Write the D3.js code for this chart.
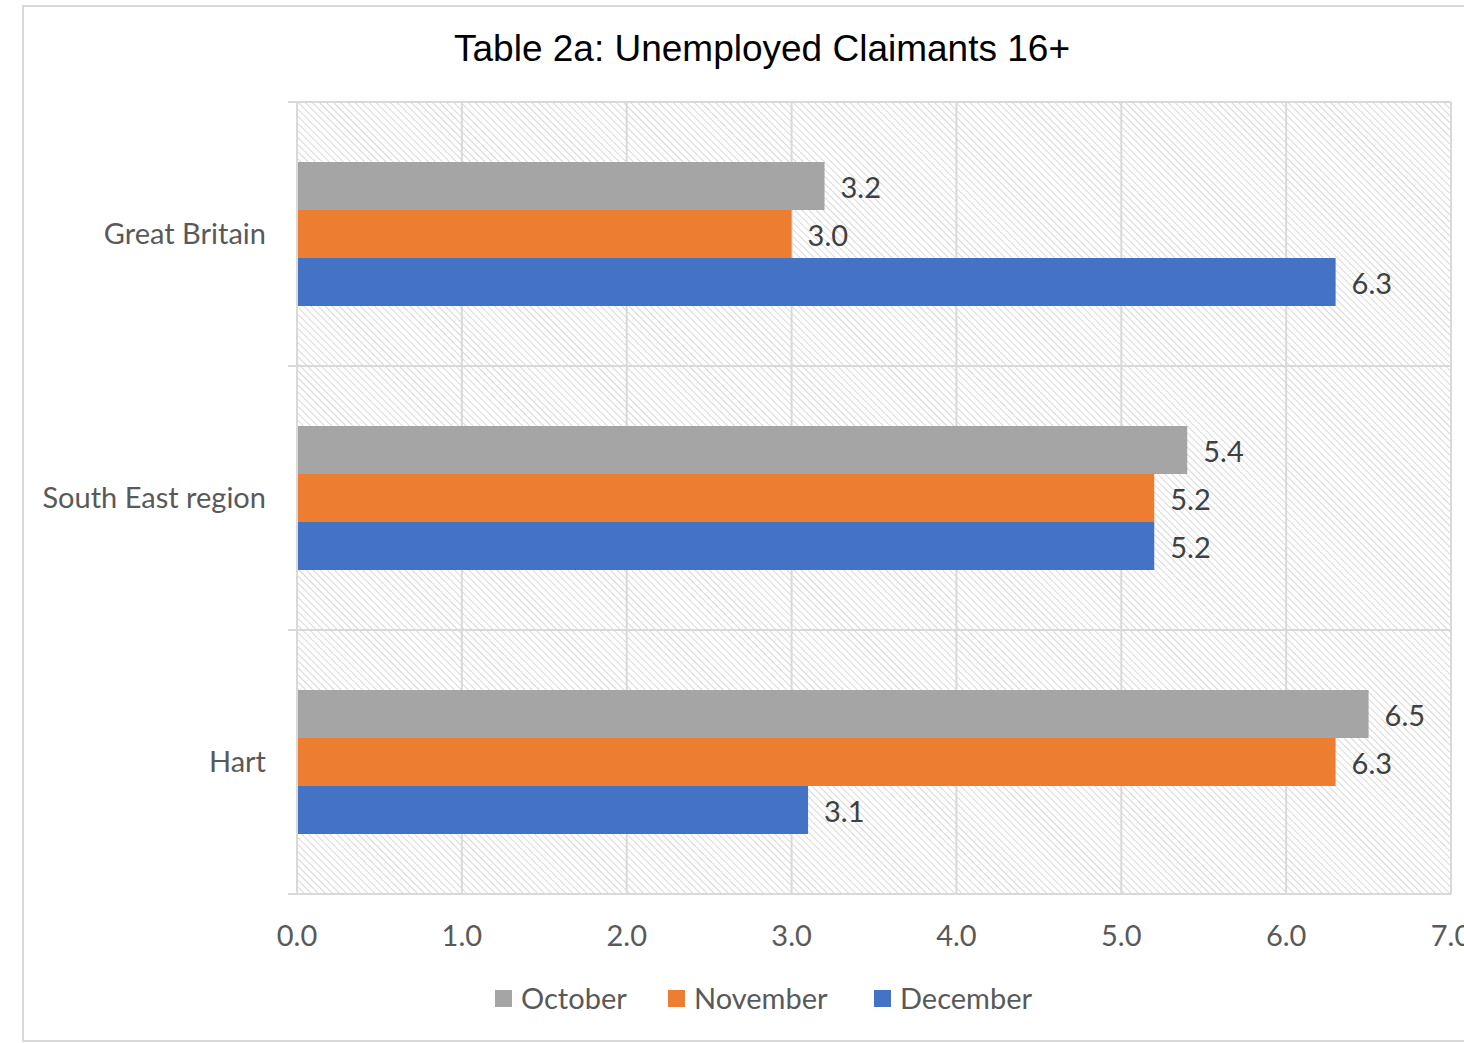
<!DOCTYPE html>
<html>
<head>
<meta charset="utf-8">
<script src="https://cdn.jsdelivr.net/npm/d3@7"></script>
<style>
  body { margin: 0; background: #fff; }
  svg { display: block; }
</style>
</head>
<body>
<script>
// data
const categories = ["Great Britain", "South East region", "Hart"];
const months = ["October", "November", "December"];
const october = [3.2, 5.4, 6.5];
const november = [3.0, 5.2, 6.3];
const december = [6.3, 5.2, 3.1];
const xTicks = [0, 1, 2, 3, 4, 5, 6, 7];

const seriesValues = [october, november, december];
const colors = ["#a5a5a5", "#ed7d31", "#4472c4"];

const w = 1464, h = 1043;
const margin = {top: 102, right: 13, bottom: 149, left: 297};
const pw = w - margin.left - margin.right;
const ph = h - margin.top - margin.bottom;
const font = "Lato, 'Open Sans', sans-serif";

const svg = d3.select("body").append("svg")
  .attr("width", w)
  .attr("height", h);

// hatched background pattern
const defs = svg.append("defs");
const pat = defs.append("pattern")
  .attr("id", "hatch")
  .attr("patternUnits", "userSpaceOnUse")
  .attr("width", 5).attr("height", 5)
  .attr("patternTransform", "rotate(-45)");
pat.append("rect").attr("width", 5).attr("height", 5).attr("fill", "#fff");
pat.append("line")
  .attr("x1", 0).attr("y1", 0).attr("x2", 0).attr("y2", 5)
  .attr("stroke", "#d4d4d4").attr("stroke-width", 1.8);

// outer frame
svg.append("rect")
  .attr("x", 23).attr("y", 6)
  .attr("width", w).attr("height", 1035)
  .attr("fill", "#fff")
  .attr("stroke", "#d9d9d9").attr("stroke-width", 2);

svg.append("text")
  .attr("x", 762).attr("y", 61)
  .attr("text-anchor", "middle")
  .style("font-family", "Liberation Sans, Arial, sans-serif")
  .style("font-size", "37px")
  .attr("fill", "#000")
  .text("Table 2a: Unemployed Claimants 16+");

const g = svg.append("g").attr("transform", `translate(${margin.left},${margin.top})`);

const x = d3.scaleLinear().domain([0, 7]).range([0, pw]);
const y0 = d3.scaleBand().domain(categories).range([0, ph]);
const y1 = d3.scaleBand().domain(months).range([0, y0.bandwidth()]).paddingOuter(1.25);

g.append("rect")
  .attr("width", pw).attr("height", ph)
  .attr("fill", "url(#hatch)");

// vertical gridlines
g.selectAll(".vgrid").data(xTicks).enter().append("line")
  .attr("x1", d => x(d)).attr("x2", d => x(d))
  .attr("y1", 0).attr("y2", ph)
  .attr("stroke", "#d9d9d9").attr("stroke-width", 2);

// category boundaries with ticks
const bounds = categories.map(c => y0(c)).concat([ph]);
g.selectAll(".hgrid").data(bounds).enter().append("line")
  .attr("x1", -9).attr("x2", pw)
  .attr("y1", d => d).attr("y2", d => d)
  .attr("stroke", "#d9d9d9").attr("stroke-width", 2);

// bars
const groups = g.selectAll(".cat").data(categories).enter().append("g")
  .attr("transform", c => `translate(0,${y0(c)})`);

groups.each(function(c, ci) {
  const gg = d3.select(this);
  months.forEach((m, mi) => {
    const v = seriesValues[mi][ci];
    gg.append("rect")
      .attr("x", 0)
      .attr("y", y1(m))
      .attr("width", x(v))
      .attr("height", y1.bandwidth())
      .attr("fill", colors[mi]);
    gg.append("text")
      .attr("x", x(v) + 16)
      .attr("y", y1(m) + y1.bandwidth() / 2 + 2)
      .attr("dy", "0.36em")
      .style("font-family", font)
      .style("font-size", "29px")
      .attr("fill", "#404040")
      .text(v.toFixed(1));
  });
});

// left axis line
g.append("line")
  .attr("x1", 0).attr("x2", 0).attr("y1", 0).attr("y2", ph)
  .attr("stroke", "#d9d9d9").attr("stroke-width", 2);

// category labels
g.selectAll(".clab").data(categories).enter().append("text")
  .attr("x", -31)
  .attr("y", c => y0(c) + y0.bandwidth() / 2)
  .attr("dy", "0.36em")
  .attr("text-anchor", "end")
  .style("font-family", font)
  .style("font-size", "29px")
  .attr("fill", "#595959")
  .text(c => c);

// x tick labels
g.selectAll(".xlab").data(xTicks).enter().append("text")
  .attr("x", d => x(d))
  .attr("y", ph + 52)
  .attr("text-anchor", "middle")
  .style("font-family", font)
  .style("font-size", "29px")
  .attr("fill", "#595959")
  .text(d => d.toFixed(1));

// legend
const legX = [495, 668, 874];
const leg = svg.selectAll(".leg").data(months).enter().append("g")
  .attr("transform", (m, i) => `translate(${legX[i]},990)`);
leg.append("rect")
  .attr("width", 17).attr("height", 17)
  .attr("fill", (m, i) => colors[i]);
leg.append("text")
  .attr("x", 26).attr("y", 8.5)
  .attr("dy", "0.36em")
  .style("font-family", font)
  .style("font-size", "29px")
  .attr("fill", "#595959")
  .text(m => m);
</script>
</body>
</html>
